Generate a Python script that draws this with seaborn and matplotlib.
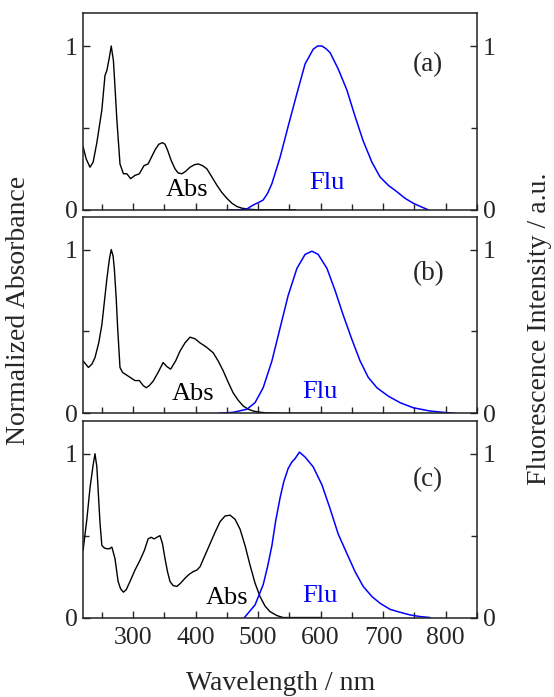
import numpy as np
import pandas as pd
import matplotlib
matplotlib.use("Agg")
import matplotlib.pyplot as plt
import seaborn as sns
from matplotlib.ticker import MultipleLocator

sns.set_style("ticks")
plt.rcParams["font.family"] = ["Liberation Serif", "DejaVu Serif"]
plt.rcParams["font.size"] = 18

# absorbance (a)
abs_a_x = [220, 225, 231, 236, 242, 250, 255, 258, 262, 265, 268.5, 271, 274, 279, 284.5, 290, 296, 303, 310, 317.5, 324,
           335, 341, 347, 351, 355, 361, 367, 372, 378, 384, 391, 398, 404, 411, 418, 426, 434, 442, 450, 458, 466, 474,
           482, 490, 500, 520, 560]
abs_a_y = [0.385, 0.31, 0.26, 0.29, 0.41, 0.61, 0.82, 0.85, 0.93, 1.0, 0.91, 0.75, 0.55, 0.28, 0.22, 0.22, 0.19, 0.21,
           0.22, 0.27, 0.28, 0.365, 0.40, 0.41, 0.40, 0.365, 0.30, 0.25, 0.225, 0.22, 0.235, 0.26, 0.275, 0.28, 0.27,
           0.25, 0.20, 0.15, 0.105, 0.07, 0.04, 0.02, 0.01, 0.005, 0.002, 0.0, 0.0, 0.0]
# fluorescence (a)
flu_a_x = [450, 470, 482, 488, 495, 501, 508, 515, 522, 535, 548, 562, 575, 588, 595, 602, 608, 615, 628, 642, 655, 668,
           682, 695, 708, 722, 735, 748, 762, 772]
flu_a_y = [0.0, 0.0, 0.005, 0.02, 0.035, 0.045, 0.06, 0.10, 0.16, 0.32, 0.51, 0.71, 0.89, 0.98, 1.0, 1.0, 0.985, 0.96,
           0.86, 0.73, 0.57, 0.42, 0.29, 0.20, 0.15, 0.11, 0.07, 0.04, 0.016, 0.0]

# absorbance (b)
abs_b_x = [220, 228.5, 234, 239, 245, 250, 258, 262, 265, 268, 270, 273, 275, 279, 283, 287, 295, 303, 310, 316, 321,
           326, 332, 340, 348, 354, 360, 368, 375, 383, 391, 399, 407, 417, 428, 436, 444, 452, 460, 468, 476, 484, 492,
           502, 513, 540, 600]
abs_b_y = [0.32, 0.28, 0.30, 0.34, 0.43, 0.54, 0.82, 0.94, 1.0, 0.96, 0.88, 0.70, 0.54, 0.28, 0.25, 0.24, 0.22, 0.20,
           0.20, 0.17, 0.156, 0.17, 0.196, 0.25, 0.31, 0.285, 0.27, 0.32, 0.38, 0.43, 0.465, 0.455, 0.43, 0.405, 0.37,
           0.32, 0.26, 0.19, 0.125, 0.08, 0.045, 0.025, 0.014, 0.007, 0.003, 0.0, 0.0]
# fluorescence (b)
flu_b_x = [436, 460, 482, 495, 508, 522, 535, 548, 562, 575, 586, 596, 610, 623, 636, 650, 663, 676, 690, 708, 727, 748,
           775, 796, 815]
flu_b_y = [0.0, 0.006, 0.025, 0.065, 0.156, 0.32, 0.52, 0.72, 0.885, 0.97, 0.99, 0.97, 0.885, 0.75, 0.60, 0.45, 0.32,
           0.22, 0.156, 0.105, 0.065, 0.034, 0.014, 0.006, 0.0]

# absorbance (c)
abs_c_x = [220, 226, 231, 236, 239, 242, 244.5, 247, 250, 254, 258, 262, 266, 271, 276, 280, 284.5, 289, 295, 303, 311,
           318, 324, 329, 333.5, 338, 343, 347, 351, 355, 359, 364, 370, 376, 383, 390, 396, 402, 407, 415, 423, 431,
           439, 447, 455, 463, 471, 479, 487, 495, 503, 511, 519, 530, 540, 600]
abs_c_y = [0.41, 0.60, 0.79, 0.93, 1.0, 0.92, 0.75, 0.58, 0.44, 0.425, 0.42, 0.42, 0.43, 0.36, 0.22, 0.175, 0.155,
           0.17, 0.22, 0.29, 0.35, 0.41, 0.48, 0.49, 0.48, 0.49, 0.50, 0.45, 0.36, 0.28, 0.22, 0.195, 0.19, 0.21, 0.24,
           0.265, 0.28, 0.29, 0.31, 0.38, 0.45, 0.52, 0.585, 0.62, 0.625, 0.60, 0.54, 0.44, 0.32, 0.21, 0.128, 0.07,
           0.036, 0.012, 0.0, 0.0]
# fluorescence (c)
flu_c_x = [478, 495, 508, 515, 522, 528, 535, 541, 548, 554, 559, 566, 575, 588, 602, 615, 628, 642, 655, 668, 682, 695,
           711, 727, 743, 759, 775]
flu_c_y = [0.0, 0.077, 0.2, 0.31, 0.44, 0.59, 0.73, 0.83, 0.91, 0.95, 0.97, 1.01, 0.98, 0.92, 0.81, 0.665, 0.51, 0.39,
           0.28, 0.19, 0.128, 0.087, 0.05, 0.032, 0.016, 0.006, 0.0]

panels = ["(a)", "(b)", "(c)"]
abs_pos = [(386, 0.12), (396, 0.115), (450, 0.12)]
flu_pos = [(610, 0.165), (599, 0.13), (599, 0.13)]
tag_y = [0.885, 0.85, 0.84]

spectra = [(abs_a_x, abs_a_y, flu_a_x, flu_a_y),
           (abs_b_x, abs_b_y, flu_b_x, flu_b_y),
           (abs_c_x, abs_c_y, flu_c_x, flu_c_y)]

fig = plt.figure(figsize=(5.54, 6.97), dpi=100)
tops = [0.981, 0.689, 0.396]
h = 0.282
axes = [fig.add_axes([0.150, t - h, 0.711, h]) for t in tops]

for i, ax in enumerate(axes):
    ax_x, ay, fx, fy = spectra[i]
    sns.lineplot(x=ax_x, y=ay, ax=ax, color="black", lw=1.0)
    sns.lineplot(x=fx, y=fy, ax=ax, color="#0000ff", lw=1.1)
    ax.set(xlim=(220, 850), ylim=(0, 1.2), xlabel="", ylabel="")
    ax.xaxis.set_major_locator(MultipleLocator(100))
    ax.xaxis.set_minor_locator(MultipleLocator(50))
    ax.yaxis.set_major_locator(MultipleLocator(1))
    ax.yaxis.set_minor_locator(MultipleLocator(0.5))
    ax.tick_params(which="both", direction="in", top=False, left=True, right=True,
                   labelleft=True, labelright=True, labelsize=18.5, width=1)
    ax.tick_params(axis="y", pad=4)
    ax.tick_params(axis="x", pad=7)
    ax.tick_params(which="major", length=5)
    ax.tick_params(which="minor", length=4)
    if i < 2:
        ax.tick_params(labelbottom=False)
    for s in ax.spines.values():
        s.set_linewidth(1.1)
        s.set_color("#222222")
    ax.text(abs_pos[i][0], abs_pos[i][1], "Abs", fontsize=19, ha="center", va="center", color="black")
    ax.text(flu_pos[i][0], flu_pos[i][1], "Flu", fontsize=19, ha="center", va="center", color="#0000ff")
    ax.text(772, tag_y[i], panels[i], fontsize=19.5, ha="center", va="center")

fig.text(0.506, 1 - 683 / 697, "Wavelength / nm", fontsize=20, ha="center", va="center")
fig.text(0.034, 0.555, "Normalized Absorbance", rotation=90, fontsize=20, ha="center", va="center")
fig.text(0.974, 0.529, "Fluorescence Intensity / a.u.", rotation=90, fontsize=20, ha="center", va="center")

fig.savefig("out.png", dpi=100)
